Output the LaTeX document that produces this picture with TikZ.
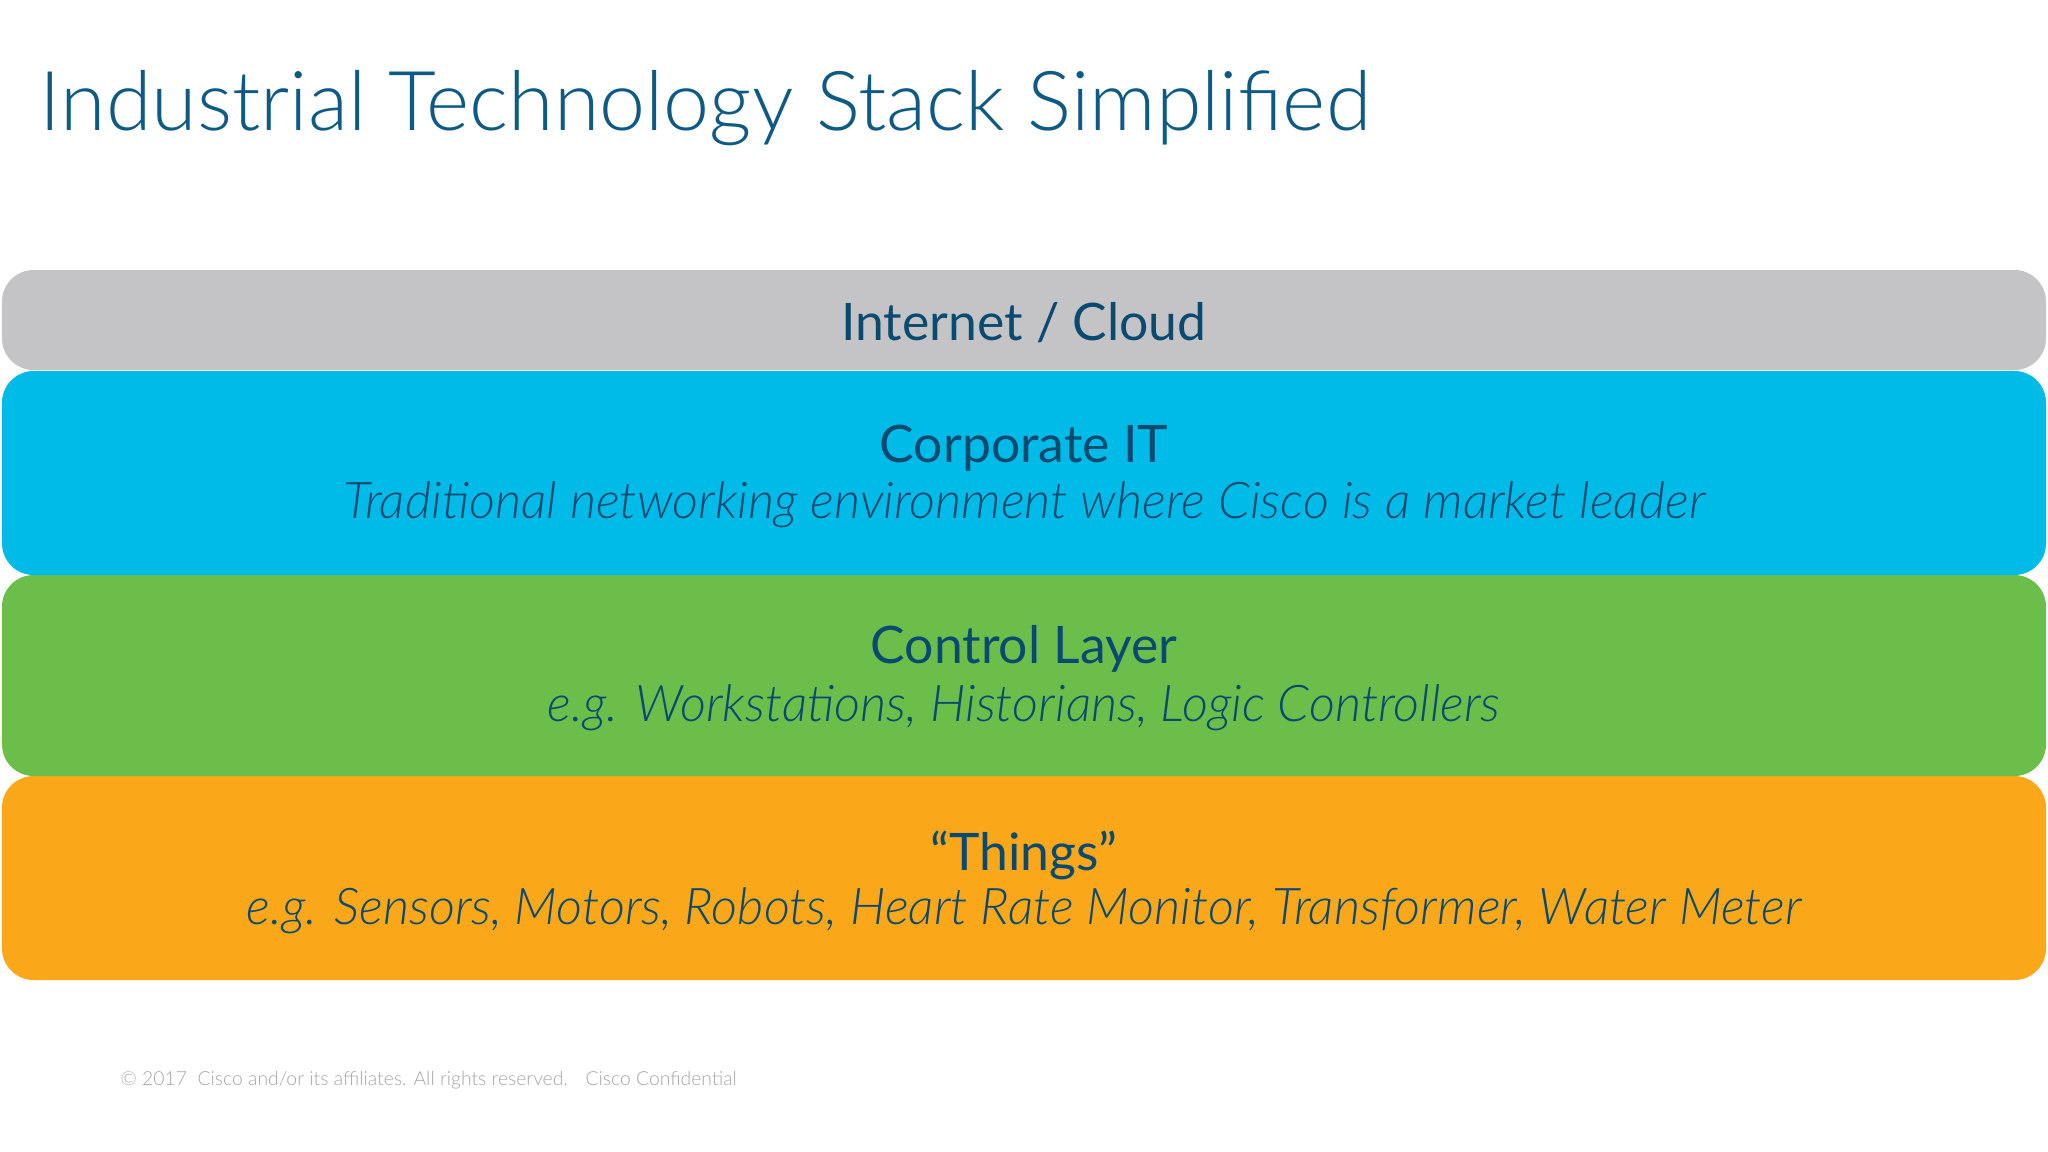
\documentclass[tikz,border=0pt]{standalone}
\usepackage{fontspec}
\setmainfont{Lato Light}
\newfontfamily\regfont{Lato}
\definecolor{ttl}{HTML}{0E5A85}
\definecolor{txt}{HTML}{0B4A70}
\definecolor{gr}{HTML}{C4C4C6}
\definecolor{bl}{HTML}{00BBE8}
\definecolor{gn}{HTML}{6CBE4B}
\definecolor{og}{HTML}{FAA819}
\begin{document}
\begin{tikzpicture}[x=0.01cm,y=-0.01cm,
  band/.style={rounded corners=9pt,draw=none},
  head/.style={text=txt,font=\regfont\fontsize{14.7}{18}\selectfont,anchor=center},
  sub/.style={text=txt,font=\fontsize{14.4}{17}\selectfont\itshape,anchor=center}]
\useasboundingbox[fill=white] (0,0) rectangle (2048,1151);
\node[anchor=base west,text=ttl,font=\fontsize{23.5}{28}\selectfont,inner sep=0] (title) at (39,130) {Industrial Technology Stack Simplified};
\fill[band,fill=og] (2,776) rectangle (2046,980);
\fill[band,fill=gn] (2,575) rectangle (2046,776);
\fill[band,fill=bl] (2,371) rectangle (2046,575);
\fill[band,fill=gr] (2,270) rectangle (2046,370);
\node[head] (inet) at (1024,323) {Internet / Cloud};
\node[head] (corp) at (1024,448) {Corporate IT};
\node[sub] (corps) at (1024,505) {Traditional networking environment where Cisco is a market leader};
\node[head] (ctrl) at (1024,649) {Control Layer};
\node[sub] (ctrls) at (1024,708) {e.g. Workstations, Historians, Logic Controllers};
\node[head] (thg) at (1024,855) {“Things”};
\node[sub] (thgs) at (1024,911) {e.g. Sensors, Motors, Robots, Heart Rate Monitor, Transformer, Water Meter};
\node[anchor=west,text=gray!70,font=\fontsize{5.5}{7}\selectfont,inner sep=0] (foot) at (120,1080) {© 2017 \ Cisco and/or its affiliates. All rights reserved. \ \ Cisco Confidential};
\end{tikzpicture}
\end{document}
